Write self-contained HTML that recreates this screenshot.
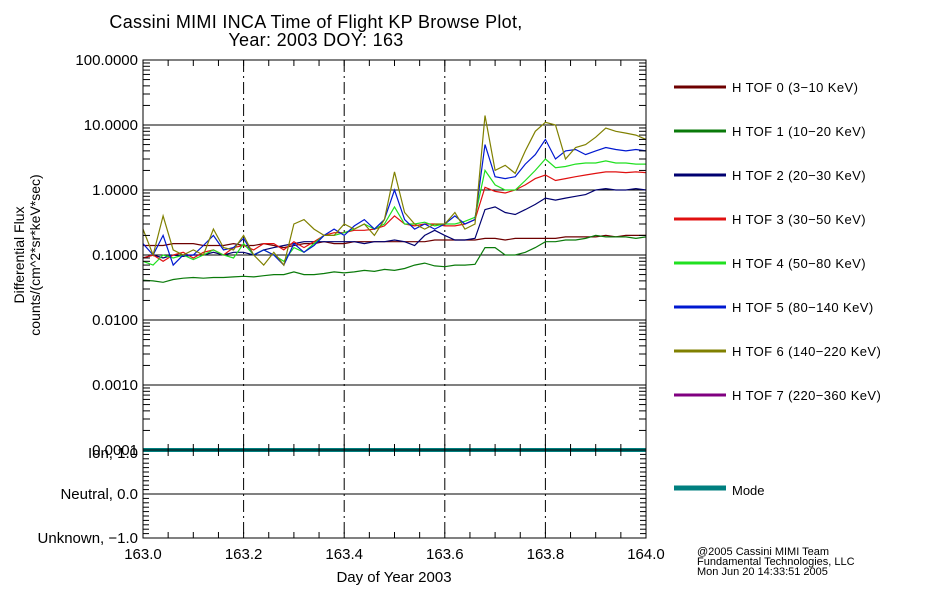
<!DOCTYPE html>
<html><head><meta charset="utf-8"><style>
body{margin:0;background:#fff;}
svg{display:block;font-family:"Liberation Sans",sans-serif;}
</style></head><body>
<svg id="chart" width="950" height="600" viewBox="0 0 950 600">
<text x="316" y="28" font-size="18" text-anchor="middle" letter-spacing="0.3">Cassini MIMI INCA Time of Flight KP Browse Plot,</text>
<text x="316" y="46" font-size="18" text-anchor="middle" letter-spacing="0.3">Year: 2003 DOY: 163</text>
<text transform="translate(24,255) rotate(-90)" font-size="14" text-anchor="middle">Differential Flux</text>
<text transform="translate(40,255) rotate(-90)" font-size="14" text-anchor="middle">counts/(cm^2*sr*keV*sec)</text>
<text x="394" y="582" font-size="15" text-anchor="middle">Day of Year 2003</text>
<g font-size="11">
<text x="697" y="555">@2005 Cassini MIMI Team</text>
<text x="697" y="565">Fundamental Technologies, LLC</text>
<text x="697" y="575">Mon Jun 20 14:33:51 2005</text>
</g>
<g id="grid"></g><g id="series"></g><g id="axes"></g><g id="legend"></g>
</svg>
<script>
const times=[];for(let i=0;i<=50;i++)times.push(163+i*0.02);
const tof0=[0.14,0.14,0.14,0.15,0.15,0.15,0.14,0.14,0.14,0.15,0.14,0.14,0.15,0.14,0.13,0.14,0.15,0.15,0.16,0.15,0.15,0.16,0.16,0.16,0.16,0.16,0.16,0.16,0.16,0.17,0.17,0.17,0.17,0.17,0.18,0.18,0.17,0.18,0.18,0.18,0.18,0.18,0.19,0.19,0.19,0.19,0.2,0.19,0.2,0.2,0.2];
const tof1=[0.041,0.04,0.038,0.042,0.044,0.045,0.044,0.045,0.045,0.046,0.047,0.046,0.048,0.05,0.05,0.055,0.05,0.05,0.052,0.055,0.053,0.055,0.058,0.056,0.06,0.058,0.062,0.07,0.075,0.068,0.066,0.07,0.07,0.072,0.13,0.13,0.1,0.1,0.11,0.13,0.16,0.16,0.17,0.17,0.18,0.2,0.19,0.19,0.19,0.18,0.19];
const tof2=[0.09,0.1,0.09,0.1,0.095,0.1,0.1,0.11,0.1,0.11,0.11,0.1,0.12,0.13,0.14,0.15,0.16,0.16,0.16,0.16,0.16,0.16,0.15,0.16,0.16,0.17,0.16,0.14,0.2,0.24,0.2,0.17,0.17,0.18,0.5,0.55,0.45,0.42,0.5,0.6,0.75,0.7,0.75,0.8,0.85,1.0,1.05,1.0,1.0,1.05,1.0];
const tof3=[0.09,0.1,0.08,0.1,0.11,0.09,0.11,0.12,0.1,0.13,0.14,0.12,0.15,0.15,0.12,0.16,0.13,0.16,0.2,0.22,0.22,0.24,0.24,0.25,0.28,0.4,0.3,0.28,0.3,0.3,0.28,0.28,0.3,0.35,1.1,0.95,0.9,1.0,1.2,1.5,1.7,1.4,1.5,1.6,1.7,1.8,1.9,1.9,1.85,1.9,1.85];
const tof4=[0.08,0.07,0.1,0.09,0.1,0.085,0.1,0.12,0.1,0.09,0.15,0.1,0.12,0.1,0.08,0.13,0.11,0.15,0.2,0.2,0.22,0.25,0.3,0.25,0.3,0.55,0.3,0.3,0.32,0.28,0.3,0.3,0.33,0.38,2.0,1.2,1.0,1.0,1.4,2.0,3.0,2.2,2.3,2.5,2.6,2.6,2.8,2.6,2.6,2.5,2.5];
const tof5=[0.15,0.1,0.2,0.07,0.1,0.1,0.14,0.2,0.12,0.13,0.18,0.1,0.12,0.1,0.07,0.15,0.11,0.14,0.2,0.25,0.2,0.28,0.35,0.25,0.35,1.0,0.35,0.25,0.3,0.25,0.3,0.4,0.3,0.35,5.0,1.6,1.5,1.6,2.5,3.5,6.0,3.0,4.0,4.2,3.5,4.0,4.5,4.2,4.0,4.2,4.0];
const tof6=[0.25,0.1,0.4,0.12,0.1,0.12,0.1,0.25,0.13,0.12,0.2,0.1,0.07,0.11,0.07,0.3,0.35,0.25,0.2,0.2,0.3,0.25,0.3,0.2,0.35,1.9,0.45,0.3,0.25,0.3,0.3,0.45,0.25,0.3,14,2.0,2.4,1.8,4,8,11,10,3.0,4.5,5,6.5,9,8,7.5,7,6];
const modeVals=[1,1];
const modeTimes=[163,164];
const yTickLabels=["0.0001","0.0010","0.0100","0.1000","1.0000","10.0000","100.0000"];
const yTickVals=[1e-4,1e-3,1e-2,1e-1,1,10,100];
const xTickVals=[163.0,163.2,163.4,163.6,163.8,164.0];
const xTickLabels=["163.0","163.2","163.4","163.6","163.8","164.0"];
const modeTickVals=[1,0,-1];
const modeTickLabels=["Ion, 1.0","Neutral, 0.0","Unknown, \u22121.0"];
const seriesNames=["H TOF 0 (3\u221210 KeV)","H TOF 1 (10\u221220 KeV)","H TOF 2 (20\u221230 KeV)","H TOF 3 (30\u221250 KeV)","H TOF 4 (50\u221280 KeV)","H TOF 5 (80\u2212140 KeV)","H TOF 6 (140\u2212220 KeV)","H TOF 7 (220\u2212360 KeV)"];
const colors=["#6e0000","#0a7a0a","#000070","#e01010","#20e020","#0018d0","#808000","#800080"];
const NS="http://www.w3.org/2000/svg";
const X0=143,X1=646,Y0=60,Y1=450,M0=450,M1=538;
const xs=t=>X0+(t-163)/(164-163)*(X1-X0);
const ys=v=>Y1-(Math.log10(v)+4)/6*(Y1-Y0);
const ym=v=>M1-(v+1)/2*(M1-M0);
function mk(tag,attrs,parent){const e=document.createElementNS(NS,tag);for(const k in attrs)e.setAttribute(k,attrs[k]);parent.appendChild(e);return e;}
const grid=document.getElementById('grid'),ser=document.getElementById('series'),ax=document.getElementById('axes'),leg=document.getElementById('legend');
yTickVals.forEach((v,i)=>{
 const l=mk('line',{x1:X0,x2:X1,y1:ys(v),y2:ys(v),stroke:'#000','stroke-width':1},grid);
 
 
 const t=mk('text',{x:X0-5,y:ys(v)+5,'font-size':15,'text-anchor':'end'},ax);
 t.textContent=yTickLabels[i];
 
 
 if(i<6){for(let m=2;m<=9;m++){const yy=ys(v*m);
  mk('line',{x1:X0,x2:X0+7,y1:yy,y2:yy,stroke:'#000'},ax);
  mk('line',{x1:X1,x2:X1-7,y1:yy,y2:yy,stroke:'#000'},ax);}}
});
const ml=mk('line',{x1:X0,x2:X1,y1:ym(0),y2:ym(0),stroke:'#000'},grid);


for(let v=-1;v<=1.001;v+=0.1){mk('line',{x1:X0,x2:X0+6,y1:ym(v),y2:ym(v),stroke:'#000'},ax);mk('line',{x1:X1,x2:X1-6,y1:ym(v),y2:ym(v),stroke:'#000'},ax);}
modeTickVals.forEach((v,i)=>{const t=mk('text',{x:X0-5,y:ym(v)+(i==0?8:5),'font-size':15,'text-anchor':'end'},ax);t.textContent=modeTickLabels[i];
 
 });
xTickVals.forEach((v,i)=>{
 if(i>0&&i<5){const l=mk('line',{x1:xs(v),x2:xs(v),y1:Y0,y2:M1,stroke:'#000','stroke-dasharray':'12,4,2,4'},grid);
  
  }
 const t=mk('text',{x:xs(v),y:559,'font-size':15,'text-anchor':'middle'},ax);t.textContent=xTickLabels[i];
 
 
});
for(let k=0;k<=20;k++){const xx=xs(163+k*0.05);
 [[Y0,Y0+6],[Y1,Y1-6],[Y1,Y1+6],[M1,M1-6]].forEach(p=>mk('line',{x1:xx,x2:xx,y1:p[0],y2:p[1],stroke:'#000'},ax));}
[[Y0,Y1],[M0,M1]].forEach(p=>{const r=mk('rect',{x:X0,y:p[0],width:X1-X0,height:p[1]-p[0],fill:'none',stroke:'#000'},ax);
 
 });
const allSeries=[tof0,tof1,tof2,tof3,tof4,tof5,tof6];
allSeries.forEach((arr,i)=>{
 const d=arr.map((v,j)=>(j?'L':'M')+xs(times[j]).toFixed(1)+','+ys(v).toFixed(1)).join('');
 const p=mk('path',{d:d,fill:'none',stroke:colors[i],'stroke-width':1.2},ser);
 
 
});
const md=modeVals.map((v,j)=>(j?'L':'M')+xs(modeTimes[j])+','+ym(v)).join('');
const mp=mk('path',{d:md,fill:'none',stroke:'#007f7f','stroke-width':4},ser);


seriesNames.forEach((n,i)=>{const y=87+i*44;
 const g=mk('g',{},leg);
 
 
 mk('line',{x1:674,x2:726,y1:y,y2:y,stroke:colors[i],'stroke-width':3},g);
 const t=mk('text',{x:732,y:y+5,'font-size':13,'letter-spacing':'0.4'},g);t.textContent=n;});
const mg=mk('g',{},leg);


mk('line',{x1:674,x2:726,y1:488,y2:488,stroke:'#007f7f','stroke-width':5},mg);
const mt=mk('text',{x:732,y:495,'font-size':13},mg);mt.textContent="Mode";
</script>
</body></html>
